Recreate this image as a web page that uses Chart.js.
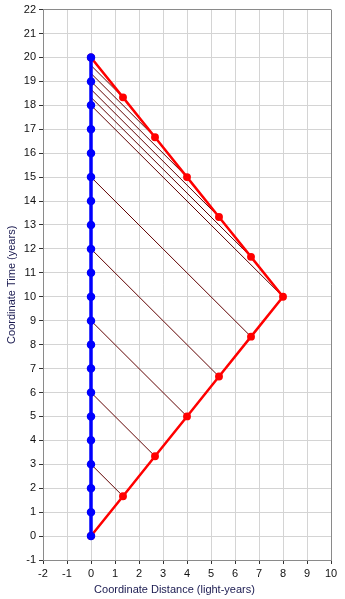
<!DOCTYPE html>
<html>
<head>
<meta charset="utf-8">
<script src="https://cdn.jsdelivr.net/npm/chart.js@4"></script>
<style>
  html, body { margin: 0; padding: 0; background: #fff; }
  #wrap { width: 345px; height: 599px; }
</style>
</head>
<body>
<div id="wrap"><canvas id="chart" width="345" height="599"></canvas></div>
<script>
// stay-at-home twin: a point every year
const earthTimes = [0, 1, 2, 3, 4, 5, 6, 7, 8, 9, 10, 11, 12, 13, 14, 15, 16, 17, 18, 19, 20];

// travelling twin (out and back)
const travelerX = [0, 1.333, 2.667, 4, 5.333, 6.667, 8, 6.667, 5.333, 4, 2.667, 1.333, 0];
const travelerT = [0, 1.667, 3.333, 5, 6.667, 8.333, 10, 11.667, 13.333, 15, 16.667, 18.333, 20];

// light signals sent home: start index on traveler path, arrival time at earth
const signalFrom = [1, 2, 3, 4, 5, 6, 7, 8, 9, 10, 11];
const signalArrive = [3, 6, 9, 12, 15, 18, 18.333, 18.667, 19, 19.333, 19.667];

const xTitle = "Coordinate Distance (light-years)";
const yTitle = "Coordinate Time (years)";

const fontFamily = "'Liberation Sans', Arial, sans-serif";
const gridColor = '#d4d4d4';
const frameColor = '#8a8a8a';
const titleColor = '#1a1a50';

const datasets = [];

datasets.push({
    data: earthTimes.map(t => ({ x: 0, y: t })),
    showLine: true,
    borderColor: '#0000ff',
    backgroundColor: '#0000ff',
    borderWidth: 3.5,
    pointRadius: 2.5,
    pointHoverRadius: 2.5,
    order: 0
});

datasets.push({
    data: travelerX.map((x, i) => ({ x: x, y: travelerT[i] })),
    showLine: true,
    borderColor: '#ff0000',
    backgroundColor: '#ff0000',
    borderWidth: 2.5,
    pointRadius: 2.7,
    pointHoverRadius: 2.7,
    order: 1
});

signalFrom.forEach((idx, k) => {
    datasets.push({
        data: [{ x: travelerX[idx], y: travelerT[idx] }, { x: 0, y: signalArrive[k] }],
        showLine: true,
        borderColor: '#600000',
        borderWidth: 1,
        pointRadius: 0,
        order: 2
    });
});

// x title is centred on the whole picture, not on the plot area
const xTitlePlugin = {
    id: 'xTitle',
    afterDraw(chart) {
        const c = chart.ctx;
        c.save();
        c.font = '11px ' + fontFamily;
        c.fillStyle = titleColor;
        c.textAlign = 'center';
        c.textBaseline = 'middle';
        c.fillText(xTitle, chart.width / 2 + 2, 590);
        c.restore();
    }
};

const ctx = document.getElementById('chart').getContext('2d');
new Chart(ctx, {
    type: 'scatter',
    data: { datasets: datasets },
    plugins: [xTitlePlugin],
    options: {
        responsive: false,
        animation: false,
        layout: { padding: { left: 0, right: 14, top: 8, bottom: 0 } },
        plugins: {
            legend: { display: false },
            tooltip: { enabled: false }
        },
        scales: {
            x: {
                type: 'linear',
                min: -2,
                max: 10,
                ticks: {
                    stepSize: 1,
                    color: '#111',
                    padding: 3,
                    font: { family: fontFamily, size: 11 }
                },
                grid: {
                    color: c => (c.tick && c.tick.value === 10) ? frameColor : gridColor,
                    tickColor: '#333',
                    tickLength: 4
                },
                border: { color: frameColor, width: 1 },
                title: { display: false },
                afterFit: s => { s.height = 39; }
            },
            y: {
                type: 'linear',
                min: -1,
                max: 22,
                ticks: {
                    stepSize: 1,
                    color: '#111',
                    padding: 3,
                    font: { family: fontFamily, size: 11 }
                },
                grid: {
                    color: c => (c.tick && c.tick.value === 22) ? frameColor : gridColor,
                    tickColor: '#333',
                    tickLength: 4
                },
                border: { color: frameColor, width: 1 },
                title: {
                    display: true,
                    text: yTitle,
                    color: titleColor,
                    padding: { top: 5, bottom: 0 },
                    font: { family: fontFamily, size: 11 }
                },
                afterFit: s => { s.width = 43; }
            }
        }
    }
});
</script>
</body>
</html>
